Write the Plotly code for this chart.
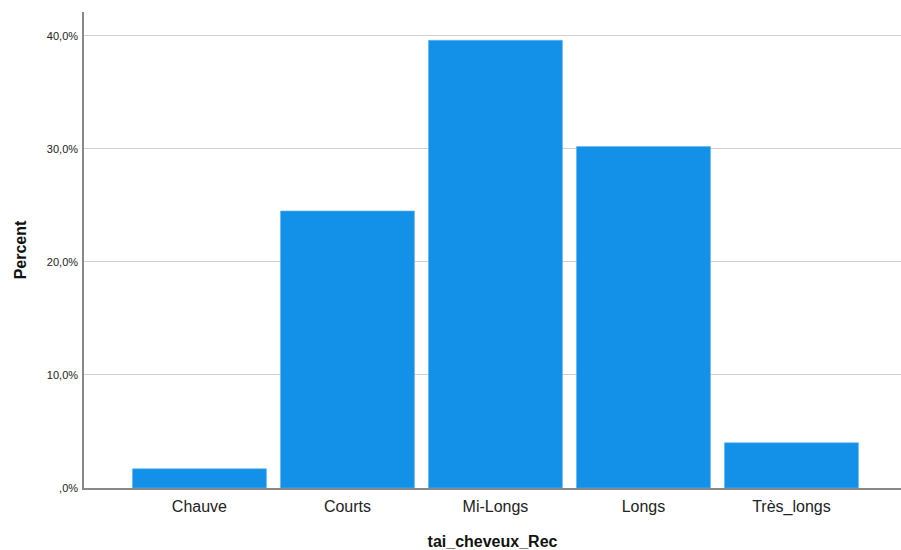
import plotly.graph_objects as go

categories = ["Chauve", "Courts", "Mi-Longs", "Longs", "Très_longs"]
percent = [1.7, 24.5, 39.6, 30.2, 4.0]
ytick_vals = [0, 10, 20, 30, 40]
ytick_text = [",0%", "10,0%", "20,0%", "30,0%", "40,0%"]

fig = go.Figure(
    go.Bar(
        x=categories,
        y=percent,
        marker=dict(color="#1391e8", line=dict(color="#5fb3ee", width=0.6)),
        hoverinfo="x+y",
    )
)

fig.update_layout(
    width=901,
    height=550,
    margin=dict(l=84, r=0, t=12, b=62),
    paper_bgcolor="white",
    plot_bgcolor="white",
    bargap=0.095,
    showlegend=False,
    font=dict(family="Liberation Sans, Arial, sans-serif", color="#222"),
)

fig.update_xaxes(
    range=[-0.78, 4.74],
    showline=True,
    linecolor="#888",
    linewidth=1.5,
    showgrid=False,
    ticks="",
    ticklabelstandoff=3,
    tickfont=dict(size=16, color="#222"),
    title=dict(text="<b>tai_cheveux_Rec</b>", font=dict(size=16, color="#111"), standoff=22),
)

fig.update_yaxes(
    range=[0, 42.1],
    tickvals=ytick_vals,
    ticktext=ytick_text,
    showline=True,
    linecolor="#888",
    linewidth=1.5,
    showgrid=True,
    gridcolor="#d0d0d0",
    gridwidth=1,
    zeroline=False,
    ticks="",
    ticklabelstandoff=2,
    tickfont=dict(size=11, color="#222"),
    title=dict(text="<b>Percent</b>", font=dict(size=16, color="#111"), standoff=16),
)

fig.write_html(
    "out.html",
    config={"displayModeBar": False},
    post_script="document.body.style.margin='0';document.body.style.overflow='hidden';",
)
